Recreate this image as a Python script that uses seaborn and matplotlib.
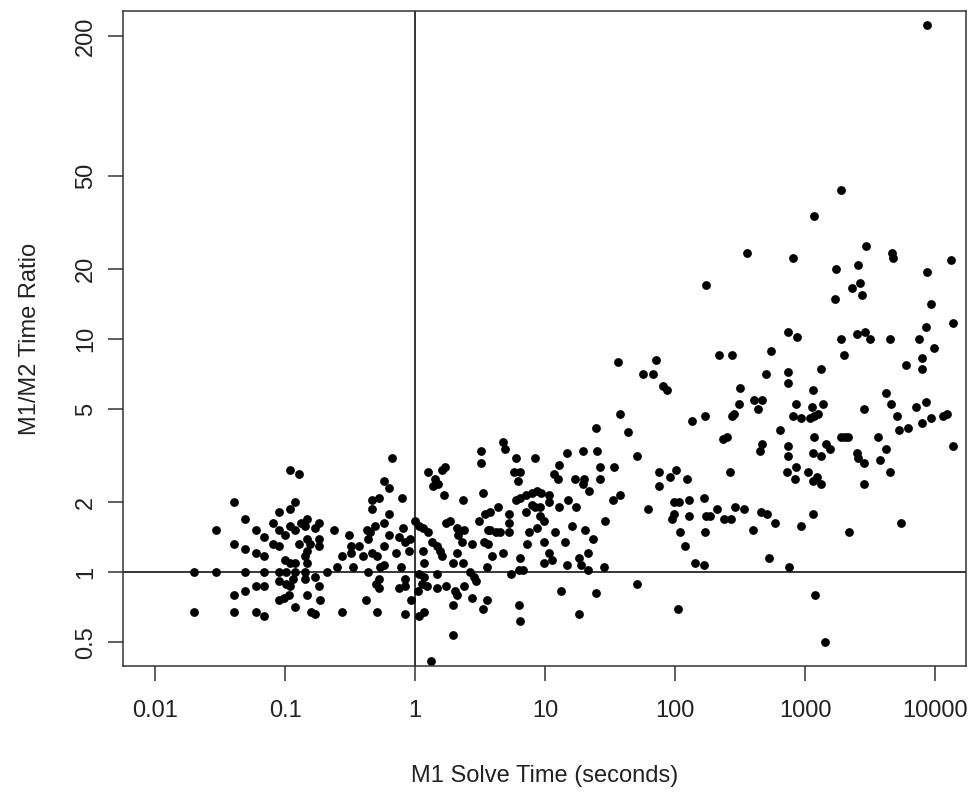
import numpy as np
import pandas as pd
import matplotlib
matplotlib.use("Agg")
import matplotlib.pyplot as plt
import seaborn as sns

# values, stored as log10 of the value
# log10 of M1 solve time (seconds)
log_time = [
    # 0.01 - 0.3 s cluster
    -0.96, -0.89, -1.39, -0.92, -1.05, -0.96, -1.31, -1.53, -1.22, -1.09,
    -1.05, -0.96, -0.92, -0.88, -0.83, -0.85, -0.74, -0.77, -0.62, -1.16,
    -1.00, -1.39, -1.09, -1.05, -1.31, -1.22, -1.16, -0.89, -0.83, -0.74,
    -0.74, -0.81, -0.83, -0.85, -0.83, -1.00, -0.96, -0.92, -1.70, -1.53,
    -1.31, -1.16, -1.05, -0.99, -0.92, -0.85, -0.68, -0.60, -0.85, -0.77,
    -1.05, -0.99, -0.94, -0.96, -0.74, -1.16, -1.22, -1.31, -1.39, -0.97,
    -1.01, -1.05, -0.83, -0.73, -0.92, -1.70, -1.39, -1.22, -1.16, -0.80,
    -0.77, -0.56,
    # 0.3 - 3 s
    -0.18, -0.24, -0.20, -0.28, -0.33, -0.33, -0.10, -0.20, -0.24, -0.31,
    -0.37, -0.35, -0.51, -0.20, -0.36, -0.49, -0.43, -0.24, -0.56, -0.49,
    -0.40, -0.33, -0.29, -0.27, -0.48, -0.36, -0.24, -0.15, -0.11, -0.09,
    -0.12, -0.08, -0.04, -0.05, 0.00, 0.03, 0.06, 0.10, 0.10, 0.15,
    0.14, 0.18, 0.21, 0.23, 0.22, 0.37, 0.51, 0.51, 0.52, 0.54,
    0.49, 0.56, 0.24, 0.27, 0.32, 0.33, 0.38, 0.36, 0.13, 0.17,
    0.19, 0.21, 0.06, 0.32, 0.44, 0.53, 0.29, 0.37, 0.07, 0.03,
    0.07, 0.05, 0.09, 0.02, 0.17, 0.17, 0.24, 0.31, 0.32, 0.38,
    0.42, 0.45, 0.47, 0.55, 0.44, 0.55, 0.52, 0.29, -0.28, -0.30,
    -0.28, -0.38, -0.08, -0.08, -0.12, -0.03, -0.29, -0.08, 0.07, 0.03,
    0.29, 0.12,
    # 3 - 50 s
    0.68, 0.69, 0.78, 0.92, 0.76, 0.81, 0.79, 0.58, 0.64, 0.72,
    0.72, 0.58, 0.62, 0.65, 0.72, 0.56, 0.59, 0.68, 0.74, 0.81,
    0.80, 0.83, 0.78, 0.81, 0.85, 0.90, 0.94, 0.97, 1.03, 1.03,
    0.85, 0.90, 0.92, 0.96, 0.96, 0.99, 0.94, 0.88, 0.86, 0.99,
    1.03, 1.05, 0.99, 1.08, 1.15, 1.11, 1.18, 1.24, 1.21, 1.31,
    1.37, 1.33, 1.26, 1.28, 1.33, 1.17, 1.45, 1.07, 1.10, 1.11,
    1.17, 1.29, 1.23, 1.30, 1.29, 1.34, 1.40, 1.42, 1.42, 1.53,
    1.39, 1.58, 1.64, 1.71, 1.52, 1.58, 1.46, 1.71, 1.39, 1.12,
    1.26, 0.80, 0.81, 1.56,
    # 50 - 1000 s
    1.85, 1.75, 1.83, 1.91, 1.94, 2.34, 2.44, 2.74, 2.70, 2.50,
    2.87, 2.94, 2.87, 2.87, 2.61, 2.67, 2.64, 2.49, 2.45, 2.44,
    2.93, 2.91, 2.13, 2.23, 2.40, 2.37, 2.81, 2.67, 2.65, 2.87,
    2.87, 1.88, 1.96, 2.01, 2.09, 1.88, 2.42, 2.86, 2.93, 2.92,
    1.79, 1.99, 2.03, 2.11, 2.22, 1.99, 1.98, 2.11, 2.24, 2.27,
    2.32, 2.38, 2.43, 2.46, 2.53, 2.66, 2.71, 2.77, 2.60, 2.04,
    2.23, 2.08, 2.15, 2.22, 2.72, 2.88, 2.97, 2.02,
    # over 1000 s
    2.97, 3.05, 3.06, 3.14, 3.04, 3.07, 3.10, 3.12, 3.28, 3.30,
    3.40, 3.46, 3.50, 3.65, 3.88, 3.93, 3.99, 3.90, 3.90, 3.78,
    3.62, 3.66, 3.45, 3.71, 3.72, 3.79, 3.85, 3.93, 3.90, 3.97,
    4.06, 4.09, 4.14, 3.07, 3.28, 3.31, 3.33, 3.56, 3.62, 3.58,
    3.65, 3.16, 3.19, 3.06, 3.12, 3.40, 3.41, 3.45, 3.02, 3.09,
    3.06, 3.12, 3.45, 3.06, 3.34, 3.74, 3.08, 3.15,
    # high ratios
    3.94, 3.28, 3.07, 3.47, 2.55, 2.91, 3.67, 3.68, 4.12, 3.24,
    3.41, 3.94, 2.24, 3.42, 3.36, 3.44, 3.23, 3.97, 4.14,
]

# log10 of M1/M2 time ratio, same order
log_ratio = [
    0.44, 0.42, 0.30, 0.30, 0.26, 0.27, 0.23, 0.18, 0.18, 0.21,
    0.18, 0.20, 0.18, 0.21, 0.23, 0.20, 0.21, 0.19, 0.18, 0.15,
    0.16, 0.12, 0.12, 0.11, 0.10, 0.08, 0.07, 0.12, 0.14, 0.14,
    0.11, 0.12, 0.09, 0.07, 0.04, 0.05, 0.04, 0.04, 0.00, 0.00,
    0.00, 0.00, 0.00, 0.00, 0.00, 0.00, 0.00, 0.02, -0.03, -0.02,
    -0.04, -0.05, -0.03, -0.06, -0.06, -0.06, -0.06, -0.08, -0.10, -0.10,
    -0.11, -0.12, -0.10, -0.12, -0.15, -0.17, -0.17, -0.17, -0.19, -0.17,
    -0.18, -0.17,
    0.49, 0.39, 0.36, 0.32, 0.31, 0.27, 0.32, 0.25, 0.21, 0.20,
    0.18, 0.17, 0.16, 0.16, 0.14, 0.11, 0.11, 0.11, 0.07, 0.08,
    0.07, 0.08, 0.07, 0.02, 0.02, 0.00, 0.03, 0.08, 0.02, 0.19,
    0.15, 0.13, 0.14, 0.09, 0.22, 0.20, 0.19, 0.17, 0.43, 0.40,
    0.37, 0.38, 0.44, 0.45, 0.33, 0.31, 0.52, 0.47, 0.34, 0.25,
    0.22, 0.18, 0.21, 0.22, 0.19, 0.16, 0.18, 0.13, 0.13, 0.11,
    0.09, 0.07, 0.09, 0.08, 0.12, 0.13, 0.04, 0.04, 0.04, -0.01,
    -0.02, -0.05, -0.06, -0.08, -0.01, -0.07, -0.06, -0.08, -0.10, -0.06,
    0.00, -0.02, -0.04, 0.02, -0.11, -0.12, -0.16, -0.14, -0.03, -0.05,
    -0.07, -0.12, -0.03, -0.06, -0.07, -0.12, -0.17, -0.18, -0.17, -0.19,
    -0.27, -0.38,
    0.56, 0.53, 0.49, 0.49, 0.43, 0.43, 0.39, 0.26, 0.28, 0.25,
    0.21, 0.18, 0.17, 0.17, 0.17, 0.12, 0.07, 0.08, -0.01, 0.06,
    0.01, 0.01, 0.31, 0.32, 0.33, 0.34, 0.35, 0.34, 0.33, 0.30,
    0.26, 0.29, 0.28, 0.28, 0.24, 0.22, 0.19, 0.17, 0.12, 0.13,
    0.08, 0.05, 0.04, 0.17, 0.13, 0.28, 0.31, 0.28, 0.20, 0.18,
    0.14, 0.08, 0.06, 0.03, 0.01, 0.03, 0.02, 0.42, 0.40, 0.46,
    0.51, 0.52, 0.40, 0.40, 0.38, 0.35, 0.52, 0.45, 0.40, 0.45,
    0.62, 0.68, 0.60, 0.50, 0.31, 0.33, 0.22, -0.05, -0.09, -0.08,
    -0.18, -0.14, -0.21, 0.90,
    0.91, 0.85, 0.85, 0.80, 0.78, 0.93, 0.93, 0.95, 0.85, 0.79,
    1.03, 1.01, 0.86, 0.81, 0.74, 0.74, 0.70, 0.72, 0.68, 0.67,
    0.72, 0.67, 0.65, 0.67, 0.58, 0.57, 0.61, 0.55, 0.52, 0.54,
    0.50, 0.43, 0.41, 0.44, 0.40, 0.37, 0.43, 0.43, 0.45, 0.40,
    0.27, 0.30, 0.30, 0.31, 0.32, 0.25, 0.23, 0.24, 0.24, 0.24,
    0.27, 0.23, 0.23, 0.28, 0.27, 0.26, 0.25, 0.21, 0.18, 0.17,
    0.17, 0.11, 0.04, 0.03, 0.06, 0.02, 0.20, -0.16,
    0.66, 0.71, 0.78, 0.72, 0.66, 0.67, 0.68, 0.87, 1.00, 0.93,
    1.02, 1.03, 1.00, 1.00, 1.00, 1.05, 0.96, 0.92, 0.87, 0.89,
    0.77, 0.72, 0.70, 0.67, 0.61, 0.62, 0.71, 0.73, 0.64, 0.66,
    0.67, 0.68, 0.54, 0.58, 0.58, 0.58, 0.58, 0.58, 0.53, 0.48,
    0.43, 0.55, 0.53, 0.51, 0.50, 0.51, 0.49, 0.47, 0.43, 0.41,
    0.39, 0.38, 0.38, 0.25, 0.17, 0.21, -0.10, -0.30,
    2.35, 1.64, 1.53, 1.40, 1.37, 1.35, 1.37, 1.35, 1.34, 1.30,
    1.32, 1.29, 1.23, 1.24, 1.22, 1.19, 1.17, 1.15, 1.07,
]

x_ticks = [0.01, 0.1, 1, 10, 100, 1000, 10000]
x_labels = ["0.01", "0.1", "1", "10", "100", "1000", "10000"]
y_ticks = [0.5, 1, 2, 5, 10, 20, 50, 200]
y_labels = ["0.5", "1", "2", "5", "10", "20", "50", "200"]

assert len(log_time) == len(log_ratio)
df = pd.DataFrame({"time": 10 ** np.array(log_time),
                   "ratio": 10 ** np.array(log_ratio)})

sns.set_style("ticks")
plt.rcParams["font.family"] = ["Liberation Sans", "DejaVu Sans"]

fig = plt.figure(figsize=(9.75, 7.96), dpi=100)
ax = fig.add_axes([0.1262, 0.1633, 0.8646, 0.8229])

sns.scatterplot(data=df, x="time", y="ratio", color="black", s=40,
                linewidth=0, ax=ax)
ax.axhline(1, color="black", lw=1.1, zorder=1)
ax.axvline(1, color="black", lw=1.1, zorder=1)

ax.set_xscale("log")
ax.set_yscale("log")
ax.set_xlim(10 ** -2.246, 10 ** 4.238)
ax.set_ylim(10 ** -0.403, 10 ** 2.408)

ax.set_xticks(x_ticks)
ax.set_xticklabels(x_labels)
ax.set_yticks(y_ticks)
ax.set_yticklabels(y_labels, rotation=90, va="center")
ax.minorticks_off()
ax.tick_params(axis="both", direction="out", length=10.8, width=1.1,
               color="#333333", labelsize=17, labelcolor="#222222")
ax.tick_params(axis="x", pad=14)
ax.tick_params(axis="y", pad=8)

for sp in ax.spines.values():
    sp.set_color("#333333")
    sp.set_linewidth(1.1)

ax.set_xlabel("M1 Solve Time (seconds)", fontsize=17, color="#222222")
ax.set_ylabel("M1/M2 Time Ratio", fontsize=17, color="#222222")
ax.xaxis.set_label_coords(0.5, -0.168)
ax.xaxis.label.set_va("center")
ax.yaxis.set_label_coords(-0.11, 0.5)
ax.yaxis.label.set_va("center")

fig.savefig("out.png", dpi=100)
